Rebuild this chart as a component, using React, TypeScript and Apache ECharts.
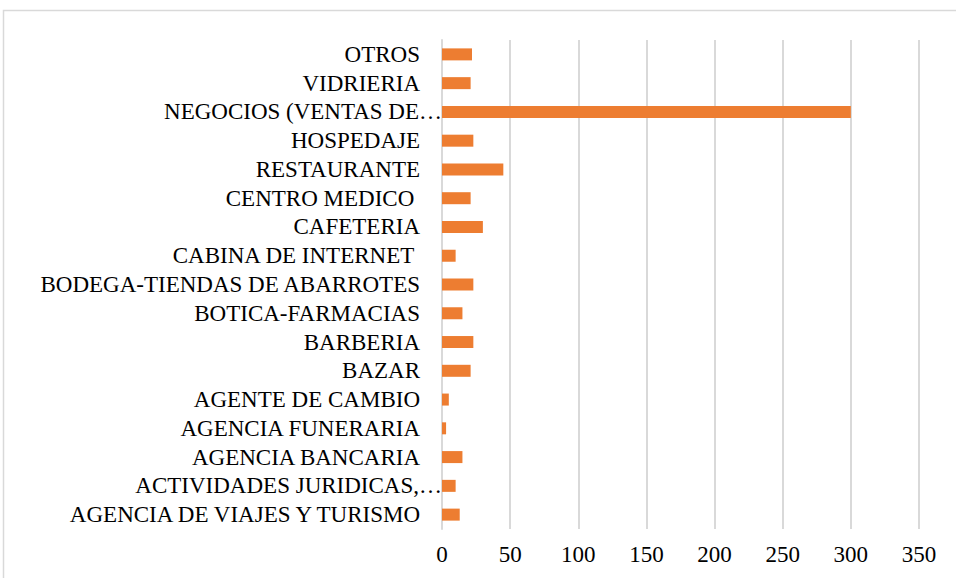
import React, { useEffect, useRef } from "react";
import * as echarts from "echarts";

const categories = [
  "AGENCIA DE VIAJES Y TURISMO",
  "ACTIVIDADES JURIDICAS,…",
  "AGENCIA BANCARIA",
  "AGENCIA FUNERARIA",
  "AGENTE DE CAMBIO",
  "BAZAR",
  "BARBERIA",
  "BOTICA-FARMACIAS",
  "BODEGA-TIENDAS DE ABARROTES",
  "CABINA DE INTERNET ",
  "CAFETERIA",
  "CENTRO MEDICO ",
  "RESTAURANTE",
  "HOSPEDAJE",
  "NEGOCIOS (VENTAS DE…",
  "VIDRIERIA",
  "OTROS",
];
const values = [13, 10, 15, 3, 5, 21, 23, 15, 23, 10, 30, 21, 45, 23, 300, 21, 22];
const xTicks = [0, 350, 50];

export default function App() {
  const ref = useRef<HTMLDivElement>(null);
  useEffect(() => {
    if (!ref.current) return;
    const chart = echarts.init(ref.current, undefined, { renderer: "svg" });
    const font = "Liberation Serif";
    const labelStyle = { fontFamily: font, fontSize: 23, color: "#000" };
    const catData = categories.map((c) => {
      const ell = c.endsWith("…");
      return {
        value: c,
        textStyle: { ...labelStyle, padding: [0, ell ? 0 : 22, 0, 0] },
      };
    });
    chart.setOption({
      animation: false,
      textStyle: { fontFamily: font },
      graphic: [
        {
          type: "rect",
          shape: { x: 3.5, y: 10.5, width: 1200, height: 1200 },
          style: { fill: "none", stroke: "#d9d9d9", lineWidth: 1.5 },
          silent: true,
        },
      ],
      grid: { left: 442, right: 37, top: 40, bottom: 49, containLabel: false },
      xAxis: {
        type: "value",
        min: xTicks[0],
        max: xTicks[1],
        interval: xTicks[2],
        axisLine: { show: false },
        axisTick: { show: false },
        splitLine: { show: true, lineStyle: { color: "#d9d9d9", width: 2 } },
        axisLabel: { ...labelStyle, margin: 14 },
      },
      yAxis: {
        type: "category",
        data: catData,
        axisLine: { show: true, lineStyle: { color: "#d9d9d9", width: 2 } },
        axisTick: { show: false },
        axisLabel: {
          ...labelStyle,
          margin: 0,
          interval: 0,
          formatter: (v: string) => v.replace(/ $/, "\u00a0"),
        },
      },
      series: [
        {
          type: "bar",
          data: values,
          barWidth: 12,
          itemStyle: { color: "#ED7D31" },
        },
      ],
    });
    return () => chart.dispose();
  }, []);
  return (
    <div
      ref={ref}
      style={{ position: "fixed", left: 0, top: 0, width: 956, height: 578, background: "#fff" }}
    />
  );
}
